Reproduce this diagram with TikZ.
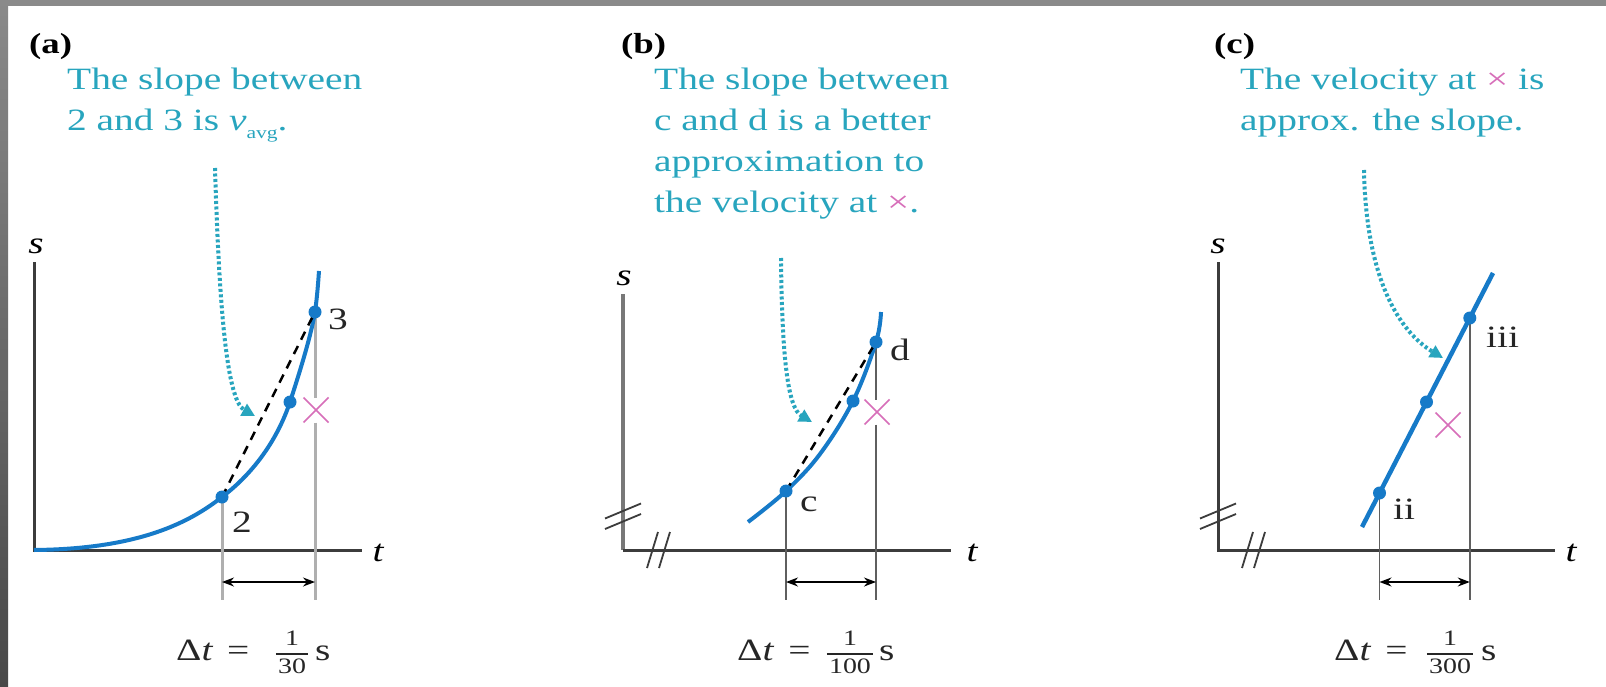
\documentclass[tikz,border=0pt]{standalone}
\usepackage{fontspec}
\setmainfont{Liberation Serif}[FakeStretch=1.27]
\usetikzlibrary{arrows.meta,shapes.misc,calc}
\definecolor{cyantext}{RGB}{40,165,190}
\definecolor{curveblue}{RGB}{22,122,200}
\definecolor{xpink}{RGB}{215,110,185}
\definecolor{axisgray}{RGB}{60,60,60}
\definecolor{axislight}{RGB}{120,120,120}
\definecolor{guidegray}{RGB}{175,175,175}
\definecolor{guidedark}{RGB}{95,95,95}
\definecolor{framegray}{RGB}{138,138,138}
\definecolor{framedark}{RGB}{72,72,72}
\begin{document}
\begin{tikzpicture}[x=1pt,y=-1pt,
  panellabel/.style={font=\fontsize{29}{29}\selectfont\bfseries, anchor=base west, inner sep=0pt},
  note/.style={font=\fontsize{31}{31}\selectfont, text=cyantext, anchor=base west, inner sep=0pt},
  axislabel/.style={font=\fontsize{31}{31}\selectfont\itshape, anchor=base, inner sep=0pt},
  ptlabel/.style={font=\fontsize{31}{31}\selectfont, text=black!85, anchor=base west, inner sep=0pt},
  dtlabel/.style={font=\fontsize{31}{31}\selectfont, text=black!85, anchor=base west, inner sep=0pt},
  fracnum/.style={font=\fontsize{22}{22}\selectfont, text=black!85, anchor=base, inner sep=0pt},
  fracbar/.style={draw=black!85, line width=1.4pt},
  dot/.style={circle, fill=curveblue, minimum size=13pt, inner sep=0pt},
  axis/.style={draw=axisgray, line width=3pt},
  curve/.style={draw=curveblue, line width=4pt},
  chord/.style={draw=black, line width=2.5pt, dash pattern=on 9pt off 7pt},
  guide/.style={draw=guidegray, line width=3pt},
  guidethin/.style={draw=guidedark, line width=1.5pt},
  hint/.style={draw=cyantext, line width=4pt, dash pattern=on 3pt off 2.5pt, -{Triangle[length=13pt,width=13pt]}},
  dim/.style={draw=black, line width=1.5pt, {Stealth[length=12pt,width=9pt]}-{Stealth[length=12pt,width=9pt]}},
  xmark/.style={cross out, draw=xpink, line width=1.7pt, minimum size=17pt, inner sep=0pt, outer sep=4pt},
  brk/.style={draw=axisgray, line width=1.8pt}
]
\useasboundingbox (0,0) rectangle (1606,687);
\fill[white] (0,0) rectangle (1606,687);
\fill[framegray] (0,0) rectangle (1606,6);
\shade[top color=framegray, bottom color=framedark] (0,0) rectangle (8,687);

% ================= (a) =================
\node[panellabel] (labA) at (29,54) {(a)};
\node[note] (txA1) at (67,90) {The slope between};
\node[note] (txA2) at (67,131) {2 and 3 is \textit{v}\raisebox{-8pt}{\fontsize{17}{17}\selectfont avg}.};

\coordinate (aTop) at (34,262);
\coordinate (aO) at (34,550);
\coordinate (aEnd) at (362,550);
\draw[axis] (aTop) -- (aO) -- (aEnd);
\node[axislabel] (sA) at (36,254) {s};
\node[axislabel] (tA) at (378,561) {t};

\coordinate (A2) at (222,497);
\coordinate (AM) at (290,402);
\coordinate (A3) at (315,312);
\coordinate (gA2) at (222,600);
\coordinate (gA3) at (315,600);
\node[xmark] (xA) at (316,410) {};
\draw[guide] (A2) -- (gA2);
\draw[guide] (A3) -- (A3 |- xA.north);
\draw[guide] (A3 |- xA.south) -- (gA3);

\draw[curve] (aO) .. controls (140,549) and (190,522) .. (A2)
  .. controls (255,472) and (278,438) .. (AM)
  .. controls (302,365) and (311,335) .. (A3)
  .. controls (317,298) and (318,285) .. (319,271);
\draw[chord] (A2) -- (A3);
\node[dot] (dA2) at (A2) {};
\node[dot] (dAM) at (AM) {};
\node[dot] (dA3) at (A3) {};
\node[ptlabel] (lA2) at (232,532) {2};
\node[ptlabel] (lA3) at (328,329) {3};

\coordinate (hA0) at (215,168);
\coordinate (hA1) at (255,416);
\draw[hint] (hA0) .. controls (219,300) and (226,400) .. (hA1);

\coordinate (dA1) at (222,582);
\coordinate (dA2e) at (315,582);
\draw[dim] (dA1) -- (dA2e);
\node[dtlabel] (dtA) at (176,660) {Δ\textit{t}\hspace{14pt}=};
\node[fracnum] (nA) at (292,645) {1};
\node[fracnum] (deA) at (292,673) {30};
\draw[fracbar] ($(deA.north west)+(-2,-4)$) -- ($(deA.north east)+(2,-4)$);
\node[dtlabel] (uA) at (315,660) {s};

% ================= (b) =================
\node[panellabel] (labB) at (621,54) {(b)};
\node[note] (txB1) at (654,90) {The slope between};
\node[note] (txB2) at (654,131) {c and d is a better};
\node[note] (txB3) at (654,172) {approximation to};
\node[note] (txB4) at (654,213) {the velocity at {\color{xpink}×}.};

\coordinate (bTop) at (623,294);
\coordinate (bO) at (623,550);
\coordinate (bEnd) at (951,550);
\draw[axis, draw=axislight, line width=3.5pt] (bTop) -- (bO);
\draw[axis] (bO) -- (bEnd);
\draw[brk] (605,518.5) -- (641,503.5);
\draw[brk] (605,529) -- (641,514);
\draw[brk] (658,532) -- (647,568);
\draw[brk] (670,532) -- (659,568);
\node[axislabel] (sB) at (624,285) {s};
\node[axislabel] (tB) at (972,561) {t};

\coordinate (Bc) at (786,491);
\coordinate (BM) at (853,401);
\coordinate (Bd) at (876,342);
\coordinate (gBc) at (786,600);
\coordinate (gBd) at (876,600);
\node[xmark] (xB) at (877,412) {};
\draw[guidethin] (Bc) -- (gBc);
\draw[guidethin] (Bd) -- (Bd |- xB.north);
\draw[guidethin] (Bd |- xB.south) -- (gBd);

\draw[curve] plot[smooth, tension=0.6] coordinates {(748,522) (786,491) (820,454) (853,401) (876,342) (881,312)};
\draw[chord] (Bc) -- (Bd);
\node[dot] (dBc) at (Bc) {};
\node[dot] (dBM) at (BM) {};
\node[dot] (dBd) at (Bd) {};
\node[ptlabel] (lBc) at (800,511) {c};
\node[ptlabel] (lBd) at (890,360) {d};

\coordinate (hB0) at (781,258);
\coordinate (hB1) at (812,422);
\draw[hint] (hB0) .. controls (782,360) and (788,408) .. (hB1);

\coordinate (dB1) at (786,582);
\coordinate (dB2) at (876,582);
\draw[dim] (dB1) -- (dB2);
\node[dtlabel] (dtB) at (737,660) {Δ\textit{t}\hspace{14pt}=};
\node[fracnum] (nB) at (850,645) {1};
\node[fracnum] (deB) at (850,673) {100};
\draw[fracbar] ($(deB.north west)+(-2,-4)$) -- ($(deB.north east)+(2,-4)$);
\node[dtlabel] (uB) at (879,660) {s};

% ================= (c) =================
\node[panellabel] (labC) at (1214,54) {(c)};
\node[note] (txC1) at (1240,90) {The velocity at {\color{xpink}×} is};
\node[note] (txC2) at (1240,131) {approx. the slope.};

\coordinate (cTop) at (1218,262);
\coordinate (cO) at (1218,550);
\coordinate (cEnd) at (1555,550);
\draw[axis] (cTop) -- (cO) -- (cEnd);
\draw[brk] (1200,518.5) -- (1236,503.5);
\draw[brk] (1200,529) -- (1236,514);
\draw[brk] (1253,532) -- (1242,568);
\draw[brk] (1265,532) -- (1254,568);
\node[axislabel] (sC) at (1218,254) {s};
\node[axislabel] (tC) at (1571,561) {t};

\coordinate (Cii) at (1379.5,493);
\coordinate (CM) at (1426.5,402);
\coordinate (Ciii) at (1469.8,318);
\coordinate (gCii) at (1379.5,600);
\coordinate (gCiii) at (1469.8,600);
\draw[guidethin] (Cii) -- (gCii);
\draw[guidethin] (Ciii) -- (gCiii);
\node[xmark] (xC) at (1448,425) {};

\coordinate (C0) at (1362,527);
\coordinate (C1) at (1493,273);
\draw[curve, line width=4.5pt] (C0) -- (C1);
\node[dot] (dCii) at (Cii) {};
\node[dot] (dCM) at (CM) {};
\node[dot] (dCiii) at (Ciii) {};
\node[ptlabel] (lCii) at (1393,519) {ii};
\node[ptlabel] (lCiii) at (1486,347) {iii};

\coordinate (hC0) at (1364,170);
\coordinate (hC1) at (1443,358);
\draw[hint] (hC0) .. controls (1366,280) and (1400,332) .. (hC1);

\coordinate (dC1) at (1379.5,582);
\coordinate (dC2) at (1469.8,582);
\draw[dim] (dC1) -- (dC2);
\node[dtlabel] (dtC) at (1334,660) {Δ\textit{t}\hspace{14pt}=};
\node[fracnum] (nC) at (1450,645) {1};
\node[fracnum] (deC) at (1450,673) {300};
\draw[fracbar] ($(deC.north west)+(-2,-4)$) -- ($(deC.north east)+(2,-4)$);
\node[dtlabel] (uC) at (1481,660) {s};
\end{tikzpicture}
\end{document}
